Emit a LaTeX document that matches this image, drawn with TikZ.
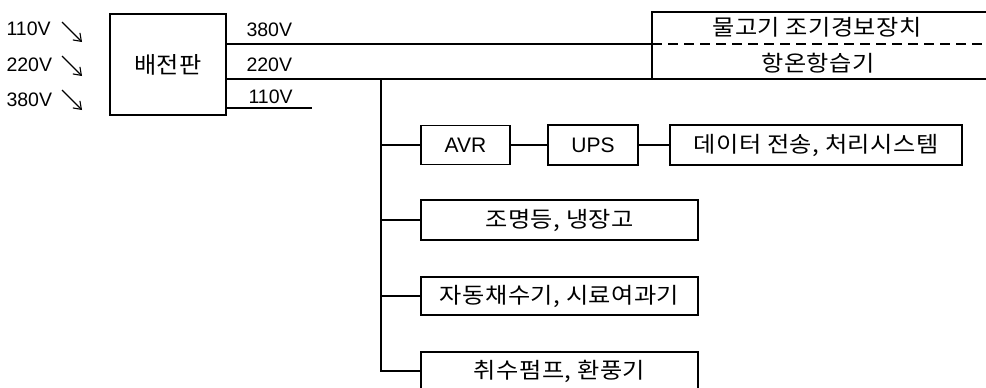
\documentclass[tikz,border=0pt]{standalone}
\usepackage{fontspec}
\setmainfont{Liberation Sans}
\newfontfamily\kr[FakeStretch=1.1,LetterSpace=2]{Noto Sans CJK KR}
\newfontfamily\krp[FakeStretch=1.05]{Noto Sans CJK KR}
\usetikzlibrary{arrows.meta}
\begin{document}
\begin{tikzpicture}[x=1pt,y=-1pt,line width=1.1pt,
  box/.style={draw,inner sep=0pt,outer sep=0pt},
  krtext/.style={font=\kr\fontsize{22}{22}\selectfont},
  latin/.style={font=\fontsize{19.5}{19.5}\selectfont,inner sep=0pt},
  boxlatin/.style={font=\fontsize{21}{21}\selectfont},
  inarrow/.style={-{Straight Barb[length=7pt,width=10pt,line width=1.1pt]}}]
\useasboundingbox (0,0) rectangle (986,388);
\clip (0,0) rectangle (986,388);

% input labels
\node[latin,anchor=west] (in110) at (6,29) {110V};
\node[latin,anchor=west] (in220) at (6,65) {220V};
\node[latin,anchor=west] (in380) at (6,100) {380V};
\draw[inarrow] (62,22) -- (82,42);
\draw[inarrow] (62,56) -- (82,76);
\draw[inarrow] (62,90) -- (82,110);

% distribution panel
\node[box,minimum width=116pt,minimum height=101pt] (panel) at (168,64.5)
  {\krp\fontsize{23}{23}\selectfont 배전판};

% top-right box (open to the right edge)
\node[box,minimum width=360pt,minimum height=67pt] (mon) at (832,45.5) {};
\node[krtext] (fish) at (817,27) {물고기 조기경보장치};
\node[krtext] (hum) at (818,63) {항온항습기};

\coordinate (y380) at (0,44);
\coordinate (y220) at (0,79);
\coordinate (y110) at (0,108);
\coordinate (end110) at (312,108);

\draw (panel.east |- y380) -- (mon.west |- y380);
\draw[dashed,dash pattern=on 10pt off 6pt] (mon.west |- y380) -- (mon.east |- y380);
\draw (panel.east |- y220) -- (mon.south west);
\draw (panel.east |- y110) -- (end110);

\node[latin,anchor=west] (o380) at (246,30) {380V};
\node[latin,anchor=west] (o220) at (246,65) {220V};
\node[latin,anchor=west] (o110) at (248,97) {110V};

% branch boxes
\node[box,minimum width=89pt,minimum height=39pt,boxlatin] (avr) at (465.5,145) {AVR};
\node[box,minimum width=90pt,minimum height=40pt,boxlatin] (ups) at (593,145) {UPS};
\node[box,minimum width=292pt,minimum height=40pt,krtext] (data) at (816,145) {데이터 전송, 처리시스템};
\node[box,minimum width=277pt,minimum height=40pt,krtext] (light) at (559.5,220) {조명등, 냉장고};
\node[box,minimum width=277pt,minimum height=38pt,krtext] (auto) at (559.5,296) {자동채수기, 시료여과기};
\node[box,minimum width=277pt,minimum height=38pt,krtext] (pump) at (559.5,371) {취수펌프, 환풍기};

% trunk and branches
\coordinate (tk) at (381,79);
\draw (tk) |- (pump.west);
\draw (avr.west -| tk) -- (avr.west);
\draw (light.west -| tk) -- (light.west);
\draw (auto.west -| tk) -- (auto.west);
\draw (avr.east) -- (ups.west);
\draw (ups.east) -- (data.west);
\end{tikzpicture}
\end{document}
